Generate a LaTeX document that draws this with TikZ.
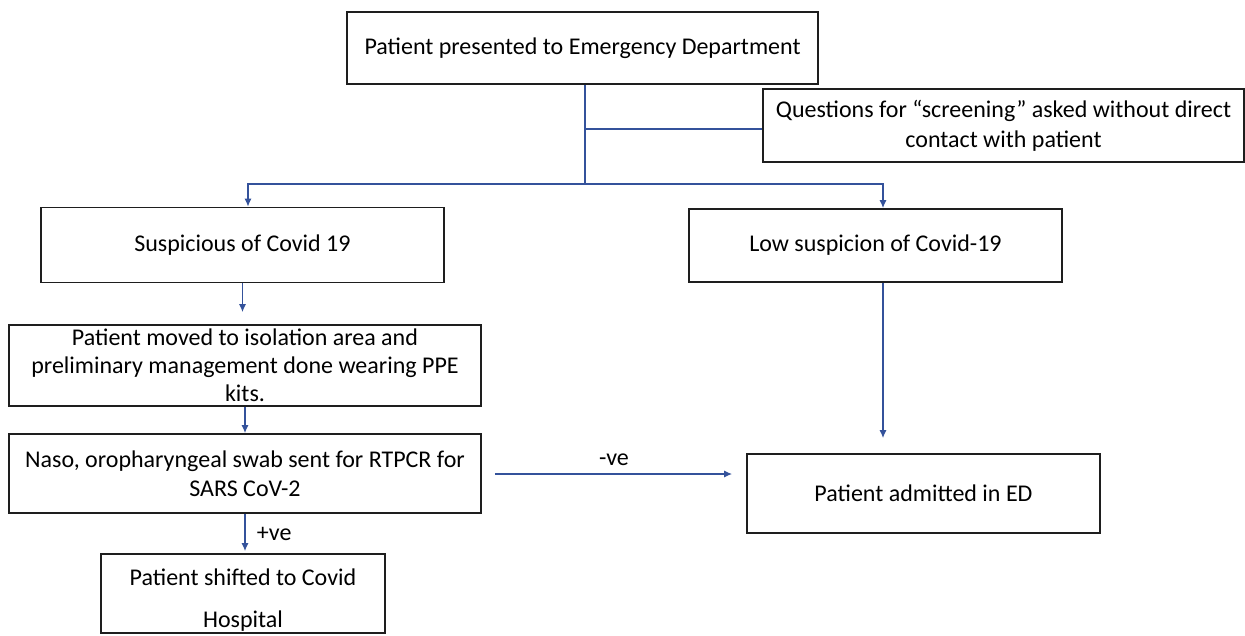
\documentclass[tikz,border=0pt]{standalone}
\usepackage{fontspec}
\setmainfont{Carlito}
\usetikzlibrary{arrows.meta,calc}
\definecolor{arrowblue}{RGB}{52,82,155}
\definecolor{boxline}{RGB}{30,30,30}
\tikzset{
  box/.style={draw=boxline,line width=1.7pt,align=center,inner sep=0pt,
    font=\fontsize{24}{29}\selectfont,text=black},
  conn/.style={draw=arrowblue,line width=1.3pt},
  arr/.style={conn,-{Latex[length=8pt,width=7pt]}},
  lbl/.style={font=\fontsize{24}{28}\selectfont,text=black}
}
\begin{document}
\begin{tikzpicture}[x=1pt,y=-1pt]
\useasboundingbox (0,0) rectangle (1245,635);
\node[box,minimum width=471pt,minimum height=72pt] (top) at (582.5,48) {Patient presented to Emergency Department};
\node[box,minimum width=481pt,minimum height=73pt,font=\fontsize{24}{30}\selectfont] (scr) at (1003.5,125.5) {Questions for “screening” asked without direct\\contact with patient};
\node[box,minimum width=403pt,minimum height=75pt] (susp) at (242.5,245) {Suspicious of Covid 19};
\node[box,minimum width=373pt,minimum height=73pt] (low) at (875.5,245.5) {Low suspicion of Covid-19};
\node[box,minimum width=472pt,minimum height=81pt,font=\fontsize{24}{28}\selectfont] (iso) at (245,365.5) {Patient moved to isolation area and\\preliminary management done wearing PPE\\kits.};
\node[box,minimum width=472pt,minimum height=79pt] (naso) at (245,473.5) {Naso, oropharyngeal swab sent for RTPCR for\\SARS CoV-2};
\node[box,minimum width=284pt,minimum height=79pt] (hosp) at (243,593.5) {};
\node[align=center,inner sep=0pt,font=\fontsize{24}{42}\selectfont,text=black] (hospt) at ([yshift=-7pt]hosp.center) {Patient shifted to Covid\\Hospital};
\node[box,minimum width=353pt,minimum height=79pt] (adm) at (923.5,493.5) {Patient admitted in ED};
\coordinate (j) at (585,184);
\coordinate (jl) at (248,184);
\coordinate (jr) at (883,184);
\draw[conn] (top.south -| j) -- (j);
\draw[conn] ($(scr.west -| j)+(0,3.5)$) -- ($(scr.west)+(0,3.5)$);
\draw[arr] (j) -- (jl) -- (jl |- susp.north);
\draw[arr] (j) -- (jr) -- (jr |- low.north);
\draw[arr,shorten >=12pt] (susp.south) -- (susp.south |- iso.north);
\draw[arr] (iso.south) -- (naso.north);
\draw[arr,shorten >=2pt] (naso.south) -- node[lbl,right=8pt] {+ve} (naso.south |- hosp.north);
\draw[arr,shorten >=15pt] (low.south -| jr) -- (jr |- adm.north);
\draw[arr,shorten <=13pt,shorten >=14pt] (naso.east |- 0,474) -- node[lbl,above=4pt] {-ve} (adm.west |- 0,474);
\end{tikzpicture}
\end{document}
